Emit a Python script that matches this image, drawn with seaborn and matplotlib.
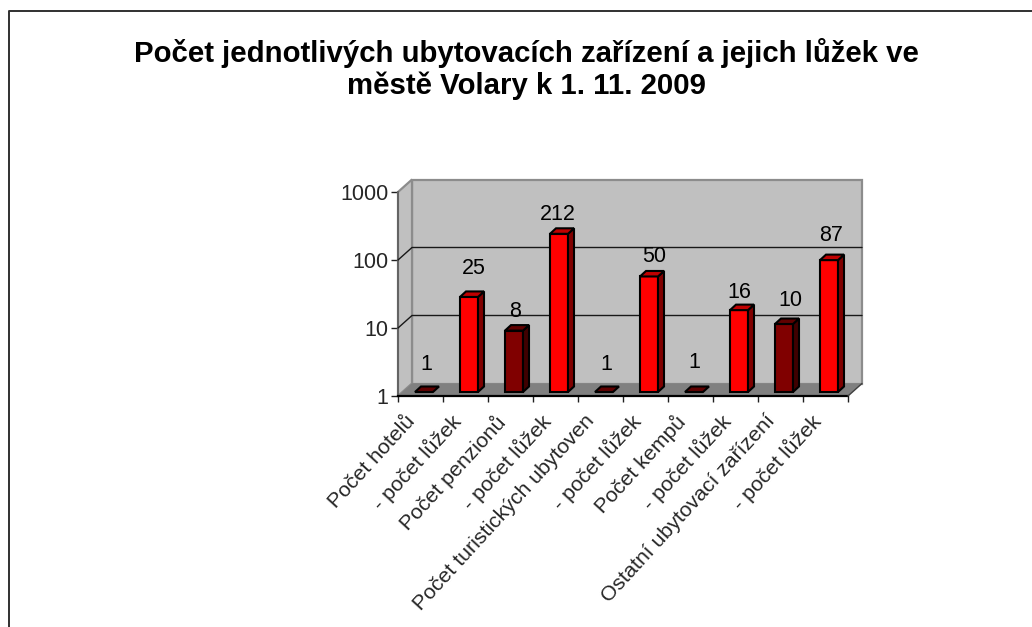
import numpy as np
import pandas as pd
import seaborn as sns
import matplotlib.pyplot as plt
from matplotlib.patches import Polygon
from matplotlib.transforms import Affine2D, IdentityTransform

W, H = 1032, 627

labels = ['Počet hotelů', '- počet lůžek', 'Počet penzionů', '- počet lůžek',
          'Počet turistických ubytoven', '- počet lůžek', 'Počet kempů',
          '- počet lůžek', 'Ostatní ubytovací zařízení', '- počet lůžek']
values = [1, 25, 8, 212, 1, 50, 1, 16, 10, 87]
kinds = ['zarizeni', 'luzka', 'zarizeni', 'luzka', 'zarizeni',
         'luzka', 'zarizeni', 'luzka', 'zarizeni', 'luzka']
yticks = [1, 10, 100, 1000]
title = 'Počet jednotlivých ubytovacích zařízení a jejich lůžek ve\nměstě Volary k 1. 11. 2009'

# posun popisku od vrsku sloupce (px)
label_dx = [2, 5, 1, -1, 2, 5, 0, 0, 6, 2]
label_dy = [28, 28, 19, 19, 28, 20, 30, 18, 24, 25]

sns.set_style('white')
plt.rcParams['font.family'] = ['Liberation Sans', 'DejaVu Sans']

df = pd.DataFrame({'poradi': range(len(values)), 'hodnota': values, 'druh': kinds})

fig = plt.figure(figsize=(W / 100, H / 100), dpi=100, facecolor='white')

# okraj grafu - jen levy a horni je videt
fig.add_artist(plt.Line2D([8.5 / W, 8.5 / W, 1], [0, 1 - 10.5 / H, 1 - 10.5 / H],
                          color='#303030', lw=1.4))

# osa odpovida prednimu okraji 3D grafu
ax = fig.add_axes([398 / W, 1 - 396 / H, 450 / W, 204 / H])
ax.patch.set_alpha(0)
ax.set_yscale('log')
sns.barplot(data=df, x='poradi', y='hodnota', hue='druh', dodge=False, width=0.4,
            palette={'zarizeni': '#800000', 'luzka': '#FF0000'}, saturation=1,
            edgecolor='black', linewidth=1.5, legend=False, ax=ax, zorder=5)
ax.set_xlim(-0.5, 9.5)
ax.set_ylim(1, 1000)
ax.set_xlabel('')
ax.set_ylabel('')

ax.set_xticks(range(len(labels)))
ax.set_xticklabels(labels, rotation=47.5, ha='right', va='top', rotation_mode='anchor', fontsize=15.3)
ax.set_xticks(np.arange(-0.5, 10), minor=True)
ax.tick_params(axis='x', which='major', length=0, pad=11)
ax.tick_params(axis='x', which='minor', length=4.5, width=1, color='#202020', bottom=True)
ax.set_yticks(yticks)
ax.set_yticklabels([str(t) for t in yticks], fontsize=15.5)
ax.yaxis.set_minor_locator(plt.NullLocator())
ax.tick_params(axis='y', which='major', length=5, width=1, color='#202020', left=True, pad=2)

for lab in ax.get_xticklabels():
    lab.set_transform(lab.get_transform() + Affine2D().translate(-16, 0))

for s in ['top', 'right']:
    ax.spines[s].set_visible(False)
ax.spines['left'].set_color('#606060')
ax.spines['left'].set_linewidth(1.3)
ax.spines['bottom'].set_color('black')
ax.spines['bottom'].set_linewidth(1.6)


def px(x, y, dx=0, dy=0):
    p = ax.transData.transform((x, y))
    return (p[0] + dx, p[1] + dy)


def plane(pts, color, edge='none', lw=0, z=1):
    ax.add_patch(Polygon(pts, closed=True, facecolor=color, edgecolor=edge, linewidth=lw,
                         transform=IdentityTransform(), clip_on=False, zorder=z))


# zadni stena, bocni stena a podlaha
dx, dy = 14, 12.5
plane([px(-0.5, 1, dx, dy), px(9.5, 1, dx, dy), px(9.5, 1000, dx, dy), px(-0.5, 1000, dx, dy)],
      '#C0C0C0', '#8C8C8C', 1.6, 1)
plane([px(-0.5, 1), px(-0.5, 1, dx, dy), px(-0.5, 1000, dx, dy), px(-0.5, 1000)],
      '#C0C0C0', '#8C8C8C', 1.6, 1)
plane([px(-0.5, 1), px(-0.5, 1, dx, dy), px(9.5, 1, dx, dy), px(9.5, 1)], '#808080', z=2)

for t in yticks[1:3]:
    ax.plot(*zip(px(-0.5, t), px(-0.5, t, dx, dy), px(9.5, t, dx, dy)), color='#181818', lw=1,
            transform=IdentityTransform(), clip_on=False, zorder=3)
ax.plot(*zip(px(9.5, 1), px(9.5, 1, dx, dy)), color='#404040', lw=1,
        transform=IdentityTransform(), clip_on=False, zorder=3)

# sloupce - predni stena je posunuta od osy, bok a vrsek se dokresli
shift = Affine2D().translate(3.5, 4)
bx, by = 6, 5.5
for bar in ax.patches:
    if not isinstance(bar, plt.Rectangle):
        continue
    i = int(round(bar.get_x() + bar.get_width() / 2))
    v = values[i]
    bar.set_y(1)
    bar.set_height(v - 1)
    bar.set_transform(ax.transData + shift)
    bar.set_clip_on(False)
    x0, x1 = bar.get_x(), bar.get_x() + bar.get_width()
    tl, tr = px(x0, v, 3.5, 4), px(x1, v, 3.5, 4)
    br = px(x1, 1, 3.5, 4)
    red = kinds[i] == 'luzka'
    if v > 1:
        plane([br, (br[0] + bx, br[1] + by), (tr[0] + bx, tr[1] + by), tr],
              '#800000' if red else '#400000', 'black', 1.5, 6)
    plane([tl, tr, (tr[0] + bx, tr[1] + by), (tl[0] + bx, tl[1] + by)],
          '#C00000' if red else '#600000', 'black', 1.5, 6)
    ax.annotate(str(v), xy=px(i, v, 3.5, 4), xycoords='figure pixels',
                xytext=(label_dx[i], label_dy[i]), textcoords='offset pixels',
                ha='center', va='center', fontsize=15.5, color='black', zorder=8)

fig.text(526 / W, 1 - 69 / H, title, ha='center', va='center', fontsize=21.2,
         fontweight='bold', color='black', linespacing=1.14)

fig.savefig('out.png', dpi=100)
